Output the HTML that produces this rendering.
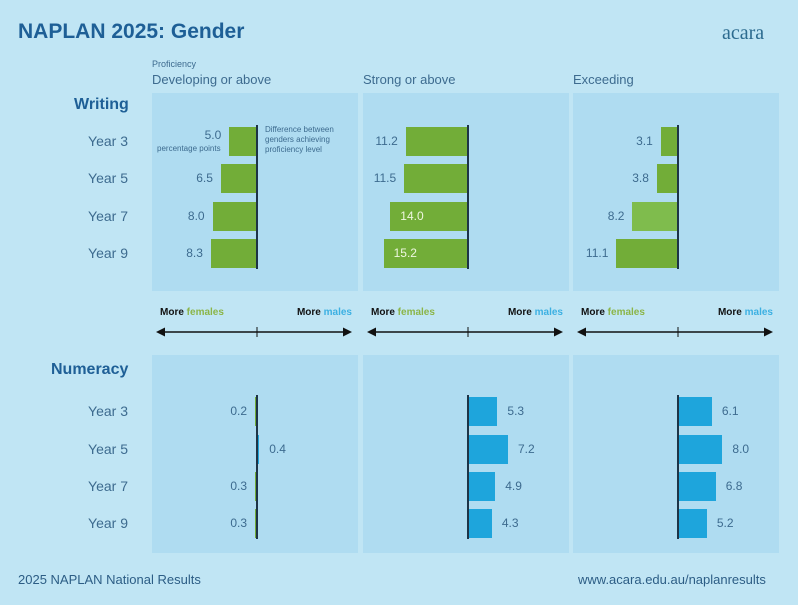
<!DOCTYPE html>
<html><head><meta charset="utf-8"><style>
body{margin:0;width:798px;height:605px;background:#c0e5f4;font-family:"Liberation Sans",sans-serif;position:relative;overflow:hidden}
.a{position:absolute}
.panel{position:absolute;background:#afdcf1}
.t{position:absolute;color:#3d6b8f;font-size:12px;white-space:nowrap}
</style></head><body>
<div class="a" style="left:18px;top:20px;font-size:21px;font-weight:bold;color:#1e5f96">NAPLAN 2025: Gender</div>
<div class="a" style="left:722px;top:22px;font-size:20px;color:#2c6b8f;font-family:'Liberation Serif',serif">acara</div>
<div class="a" style="left:152px;top:59px;font-size:9px;color:#3d6b8f">Proficiency</div>
<div class="a" style="left:152px;top:72px;font-size:13px;color:#3d6b8f">Developing or above</div>
<div class="a" style="left:363px;top:72px;font-size:13px;color:#3d6b8f">Strong or above</div>
<div class="a" style="left:573px;top:72px;font-size:13px;color:#3d6b8f">Exceeding</div>
<div class="a" style="left:74px;top:96px;font-size:16px;font-weight:bold;color:#1e5f96">Writing</div>
<div class="a" style="left:51px;top:361px;font-size:16px;font-weight:bold;color:#1e5f96">Numeracy</div>
<div class="a" style="left:18px;top:572px;font-size:13px;color:#2c5d85">2025 NAPLAN National Results</div>
<div class="a" style="left:578px;top:572px;font-size:13px;color:#2c5d85">www.acara.edu.au/naplanresults</div>
<div id="root"></div>
<script>
const years=["Year 3","Year 5","Year 7","Year 9"];
const writingDev=[-5.0,-6.5,-8.0,-8.3];
const writingStrong=[-11.2,-11.5,-14.0,-15.2];
const writingExc=[-3.1,-3.8,-8.2,-11.1];
const numDev=[-0.2,0.4,-0.3,-0.3];
const numStrong=[5.3,7.2,4.9,4.3];
const numExc=[6.1,8.0,6.8,5.2];
const root=document.getElementById('root');
const colX=[152,363,573],colW=206,axisOff=105,PX=5.55;
const xs=v=>v*PX;
function mk(tag,css,parent){const e=document.createElement(tag);e.style.cssText=css;(parent||root).appendChild(e);return e;}
function block(top,rowsY,sets,name){
  years.forEach((y,i)=>{const l=mk('div','position:absolute;left:60px;width:68px;text-align:right;top:'+(rowsY[i]-8)+'px;font-size:14px;color:#3d6b8f');l.textContent=y;
    
    });
  sets.forEach((vals,c)=>{
    const p=mk('div','left:'+colX[c]+'px;top:'+top+'px;width:'+colW+'px;height:198px');p.className='panel';
    
    
    const ax=colX[c]+axisOff;
    const axl=mk('div','position:absolute;left:'+(ax-1)+'px;top:'+(rowsY[0]-16)+'px;width:2px;height:'+(rowsY[3]-rowsY[0]+32)+'px;background:#1d3447;z-index:2');
    
    
    vals.forEach((v,i)=>{
      const w=Math.max(Math.abs(xs(v)),2);const left=v<0?ax-w:ax;
      const green=(c==2&&i==2&&name=='writing')?'#7fbc4d':'#72ad38';
      const b=mk('div','position:absolute;left:'+left+'px;top:'+(rowsY[i]-14)+'px;width:'+w+'px;height:29px;background:'+(v<0?green:'#1ea5dc'));
      
      
      const t=mk('div','');t.className='t';t.textContent=Math.abs(v).toFixed(1);
      
      
      if(v<0){ if(w>70){t.style.left=(left+10)+'px';t.style.color='#eef7e0';} else {t.style.left=(left-36)+'px';t.style.width='28px';t.style.textAlign='right';} }
      else t.style.left=(ax+w+10)+'px';
      t.style.top=(rowsY[i]-(name=='writing'&&c==0&&i==0?13:7))+'px';
    });
  });
}
block(93,[141,178,216,253],[writingDev,writingStrong,writingExc],'writing');
block(355,[411,449,486,523],[numDev,numStrong,numExc],'numeracy');
[['percentage points','left:157px;top:144px;font-size:8px'],
 ['Difference between<br>genders achieving<br>proficiency level','left:265px;top:125px;font-size:8px;line-height:10px']].forEach(a=>{
  const e=mk('div','position:absolute;color:#3d6b8f;white-space:nowrap;'+a[1]);e.innerHTML=a[0];
  
  });
colX.forEach((x,c)=>{
  const f=mk('div','position:absolute;left:'+(x+8)+'px;top:307px;font-size:10px;font-weight:bold;color:#111');f.innerHTML='More <span style="color:#8bb548">females</span>';
  
  
  const m=mk('div','position:absolute;left:'+(x+140)+'px;width:60px;text-align:right;top:307px;font-size:10px;font-weight:bold;color:#111');m.innerHTML='More <span style="color:#3cb0e2">males</span>';
  
  
  const s=document.createElementNS('http://www.w3.org/2000/svg','svg');
  s.setAttribute('style','position:absolute;left:'+x+'px;top:324px');s.setAttribute('width','206');s.setAttribute('height','16');
  s.innerHTML='<line x1="12" y1="8" x2="192" y2="8" stroke="#111" stroke-width="1.5"/><polygon points="4,8 13,3.5 13,12.5" fill="#111"/><polygon points="200,8 191,3.5 191,12.5" fill="#111"/><line x1="'+axisOff+'" y1="3" x2="'+axisOff+'" y2="13" stroke="#111" stroke-width="1"/>';
  
  
  root.appendChild(s);
});
</script>
</body></html>
